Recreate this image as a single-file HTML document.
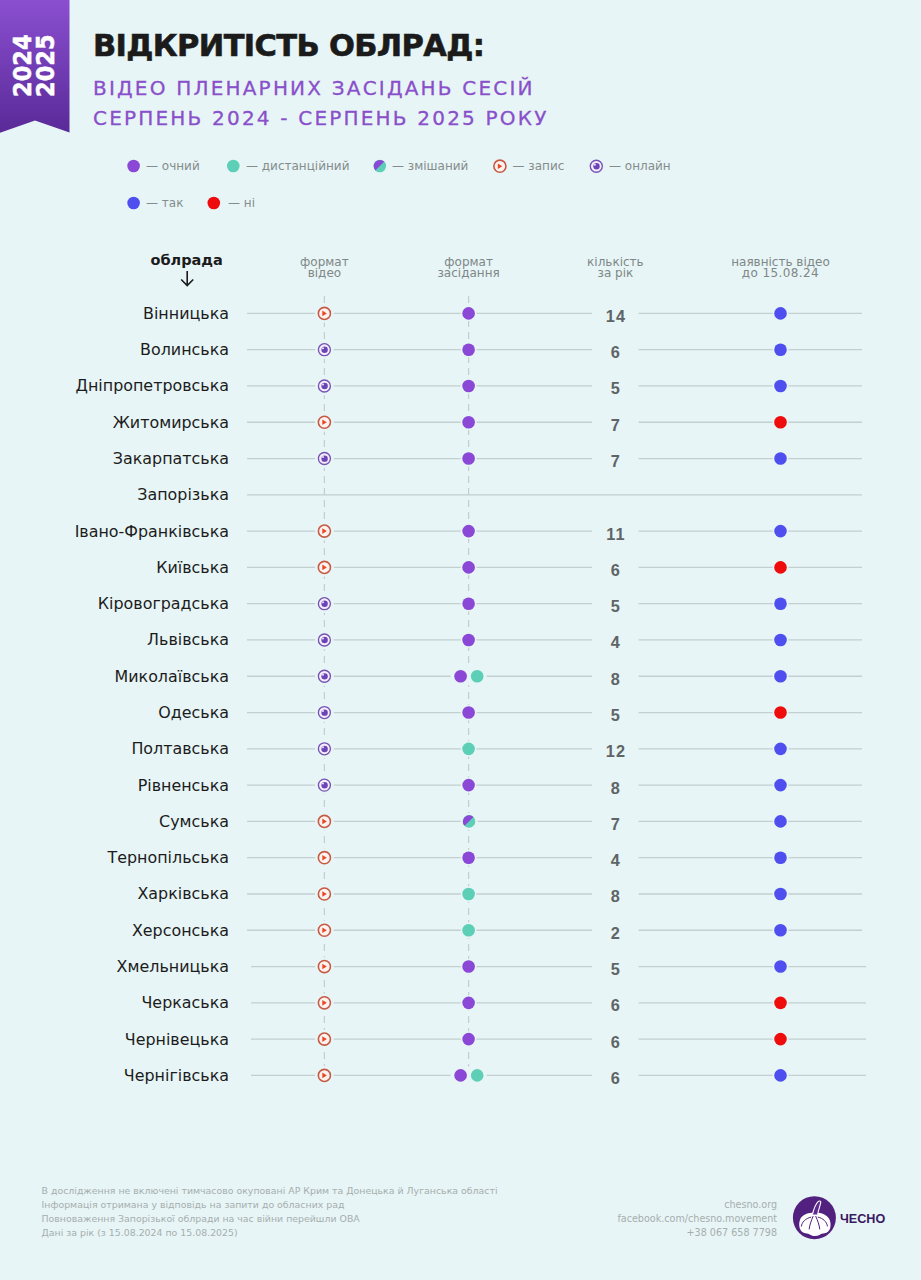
<!DOCTYPE html>
<html><head><meta charset="utf-8"><style>
*{margin:0;padding:0;box-sizing:border-box}
html,body{width:921px;height:1280px;overflow:hidden;background:#e7f5f6}
body{position:relative;font-family:"DejaVu Sans","Liberation Sans",sans-serif}
.abs{position:absolute;white-space:nowrap}
#rib{position:absolute;left:0;top:0}
.yr{position:absolute;color:#fff;font-weight:700;font-size:25px;line-height:25px;transform-origin:0 0;white-space:nowrap;-webkit-text-stroke:0.5px #fff}
h1{position:absolute;left:93px;top:28.5px;font-size:30.5px;line-height:34px;font-weight:700;color:#1b1b1b;letter-spacing:-0.65px;white-space:nowrap;-webkit-text-stroke:0.6px #1b1b1b}
.sub{position:absolute;left:93px;font-size:20px;line-height:24px;color:#8a4fca;letter-spacing:2.2px;-webkit-text-stroke:0.3px #8a4fca;white-space:nowrap}
.lg{position:absolute;font-size:12px;line-height:14px;color:#858c8c;white-space:nowrap}
.hd{position:absolute;font-size:12px;line-height:11.6px;color:#7f8787;text-align:center;width:120px;white-space:nowrap}
.nm{position:absolute;right:692px;font-size:15.9px;line-height:20px;color:#1c1c1c;white-space:nowrap;text-align:right}
.num{position:absolute;left:585.4px;width:60px;text-align:center;font-family:'Liberation Sans',sans-serif;font-size:16.3px;line-height:20px;font-weight:700;color:#5f6466;letter-spacing:1px;text-indent:1px}
.ft{position:absolute;font-size:9.4px;line-height:14px;color:#a6aeae;white-space:nowrap}
</style></head><body>
<svg id="rib" width="70" height="134" viewBox="0 0 70 134">
<defs><linearGradient id="rg" x1="0" y1="0" x2="0" y2="1"><stop offset="0" stop-color="#8a4fd0"/><stop offset="1" stop-color="#5a2a98"/></linearGradient></defs>
<polygon points="0,0 69.5,0 69.5,132.6 35,120.6 0,132.8" fill="url(#rg)"/>
</svg>
<div class="yr" style="left:10.2px;top:97px;transform:rotate(-90deg) scaleX(0.9)">2024</div>
<div class="yr" style="left:32.5px;top:97px;transform:rotate(-90deg) scaleX(0.9)">2025</div>
<h1>ВІДКРИТІСТЬ ОБЛРАД:</h1>
<div class="sub" style="top:76px">ВІДЕО ПЛЕНАРНИХ ЗАСІДАНЬ СЕСІЙ</div>
<div class="sub" style="top:106px">СЕРПЕНЬ 2024 - СЕРПЕНЬ 2025 РОКУ</div>
<svg class="abs" style="left:0;top:0" width="921" height="1280" viewBox="0 0 921 1280">
<circle cx="133.6" cy="166" r="6.3" fill="#8b47d6"/><circle cx="233.3" cy="166" r="6.3" fill="#5ccfb6"/><circle cx="379.8" cy="166" r="6.3" fill="#5ccfb6"/><path d="M384.25 161.55 A6.3 6.3 0 0 0 375.35 170.45 Z" fill="#8b47d6"/><circle cx="499.9" cy="166.2" r="9.4" fill="#e7f5f6"/><circle cx="499.9" cy="166.2" r="6.05" fill="#fdf4f0" stroke="#c75a45" stroke-width="1.6"/><path d="M497.80 163.40 L502.30 166.20 L497.80 169.00Z" fill="#ec4528"/><circle cx="596.3" cy="166.2" r="9.4" fill="#e7f5f6"/><circle cx="596.3" cy="166.2" r="6.0" fill="#f6eefe" stroke="#7453b2" stroke-width="1.35"/><circle cx="596.50" cy="166.30" r="3.2" fill="#6a45b5"/><circle cx="594.90" cy="164.70" r="1" fill="#efe6ff"/><circle cx="133.6" cy="203" r="6.3" fill="#4e4fee"/><circle cx="213.8" cy="203" r="6.3" fill="#ee0c0c"/>
<line x1="324.4" y1="296" x2="324.4" y2="1075.4" stroke="#c4cecf" stroke-width="1.2" stroke-dasharray="7 5"/><line x1="468.6" y1="296" x2="468.6" y2="1075.4" stroke="#c4cecf" stroke-width="1.2" stroke-dasharray="7 5"/><line x1="247" y1="313.4" x2="862" y2="313.4" stroke="#c3cfd1" stroke-width="1.3"/><rect x="592" y="305.4" width="46.6" height="16" fill="#e7f5f6"/><circle cx="324.4" cy="313.4" r="9.4" fill="#e7f5f6"/><circle cx="324.4" cy="313.4" r="6.05" fill="#fdf4f0" stroke="#c75a45" stroke-width="1.6"/><path d="M322.30 310.60 L326.80 313.40 L322.30 316.20Z" fill="#ec4528"/><circle cx="468.6" cy="313.4" r="7.9" fill="#e7f5f6"/><circle cx="468.6" cy="313.4" r="6.3" fill="#8b47d6"/><circle cx="780.5" cy="313.4" r="7.9" fill="#e7f5f6"/><circle cx="780.5" cy="313.4" r="6.3" fill="#4e4fee"/><line x1="247" y1="349.69" x2="862" y2="349.69" stroke="#c3cfd1" stroke-width="1.3"/><rect x="592" y="341.69" width="46.6" height="16" fill="#e7f5f6"/><circle cx="324.4" cy="349.69" r="9.4" fill="#e7f5f6"/><circle cx="324.4" cy="349.69" r="6.0" fill="#f6eefe" stroke="#7453b2" stroke-width="1.35"/><circle cx="324.60" cy="349.79" r="3.2" fill="#6a45b5"/><circle cx="323.00" cy="348.19" r="1" fill="#efe6ff"/><circle cx="468.6" cy="349.69" r="7.9" fill="#e7f5f6"/><circle cx="468.6" cy="349.69" r="6.3" fill="#8b47d6"/><circle cx="780.5" cy="349.69" r="7.9" fill="#e7f5f6"/><circle cx="780.5" cy="349.69" r="6.3" fill="#4e4fee"/><line x1="247" y1="385.97" x2="862" y2="385.97" stroke="#c3cfd1" stroke-width="1.3"/><rect x="592" y="377.97" width="46.6" height="16" fill="#e7f5f6"/><circle cx="324.4" cy="385.97" r="9.4" fill="#e7f5f6"/><circle cx="324.4" cy="385.97" r="6.0" fill="#f6eefe" stroke="#7453b2" stroke-width="1.35"/><circle cx="324.60" cy="386.07" r="3.2" fill="#6a45b5"/><circle cx="323.00" cy="384.47" r="1" fill="#efe6ff"/><circle cx="468.6" cy="385.97" r="7.9" fill="#e7f5f6"/><circle cx="468.6" cy="385.97" r="6.3" fill="#8b47d6"/><circle cx="780.5" cy="385.97" r="7.9" fill="#e7f5f6"/><circle cx="780.5" cy="385.97" r="6.3" fill="#4e4fee"/><line x1="247" y1="422.26" x2="862" y2="422.26" stroke="#c3cfd1" stroke-width="1.3"/><rect x="592" y="414.26" width="46.6" height="16" fill="#e7f5f6"/><circle cx="324.4" cy="422.26" r="9.4" fill="#e7f5f6"/><circle cx="324.4" cy="422.26" r="6.05" fill="#fdf4f0" stroke="#c75a45" stroke-width="1.6"/><path d="M322.30 419.46 L326.80 422.26 L322.30 425.06Z" fill="#ec4528"/><circle cx="468.6" cy="422.26" r="7.9" fill="#e7f5f6"/><circle cx="468.6" cy="422.26" r="6.3" fill="#8b47d6"/><circle cx="780.5" cy="422.26" r="7.9" fill="#e7f5f6"/><circle cx="780.5" cy="422.26" r="6.3" fill="#ee0c0c"/><line x1="247" y1="458.54" x2="862" y2="458.54" stroke="#c3cfd1" stroke-width="1.3"/><rect x="592" y="450.54" width="46.6" height="16" fill="#e7f5f6"/><circle cx="324.4" cy="458.54" r="9.4" fill="#e7f5f6"/><circle cx="324.4" cy="458.54" r="6.0" fill="#f6eefe" stroke="#7453b2" stroke-width="1.35"/><circle cx="324.60" cy="458.64" r="3.2" fill="#6a45b5"/><circle cx="323.00" cy="457.04" r="1" fill="#efe6ff"/><circle cx="468.6" cy="458.54" r="7.9" fill="#e7f5f6"/><circle cx="468.6" cy="458.54" r="6.3" fill="#8b47d6"/><circle cx="780.5" cy="458.54" r="7.9" fill="#e7f5f6"/><circle cx="780.5" cy="458.54" r="6.3" fill="#4e4fee"/><line x1="247" y1="494.83" x2="862" y2="494.83" stroke="#c3cfd1" stroke-width="1.3"/><line x1="247" y1="531.12" x2="862" y2="531.12" stroke="#c3cfd1" stroke-width="1.3"/><rect x="592" y="523.12" width="46.6" height="16" fill="#e7f5f6"/><circle cx="324.4" cy="531.12" r="9.4" fill="#e7f5f6"/><circle cx="324.4" cy="531.12" r="6.05" fill="#fdf4f0" stroke="#c75a45" stroke-width="1.6"/><path d="M322.30 528.32 L326.80 531.12 L322.30 533.92Z" fill="#ec4528"/><circle cx="468.6" cy="531.12" r="7.9" fill="#e7f5f6"/><circle cx="468.6" cy="531.12" r="6.3" fill="#8b47d6"/><circle cx="780.5" cy="531.12" r="7.9" fill="#e7f5f6"/><circle cx="780.5" cy="531.12" r="6.3" fill="#4e4fee"/><line x1="247" y1="567.4" x2="862" y2="567.4" stroke="#c3cfd1" stroke-width="1.3"/><rect x="592" y="559.4" width="46.6" height="16" fill="#e7f5f6"/><circle cx="324.4" cy="567.4" r="9.4" fill="#e7f5f6"/><circle cx="324.4" cy="567.4" r="6.05" fill="#fdf4f0" stroke="#c75a45" stroke-width="1.6"/><path d="M322.30 564.60 L326.80 567.40 L322.30 570.20Z" fill="#ec4528"/><circle cx="468.6" cy="567.4" r="7.9" fill="#e7f5f6"/><circle cx="468.6" cy="567.4" r="6.3" fill="#8b47d6"/><circle cx="780.5" cy="567.4" r="7.9" fill="#e7f5f6"/><circle cx="780.5" cy="567.4" r="6.3" fill="#ee0c0c"/><line x1="247" y1="603.69" x2="862" y2="603.69" stroke="#c3cfd1" stroke-width="1.3"/><rect x="592" y="595.69" width="46.6" height="16" fill="#e7f5f6"/><circle cx="324.4" cy="603.69" r="9.4" fill="#e7f5f6"/><circle cx="324.4" cy="603.69" r="6.0" fill="#f6eefe" stroke="#7453b2" stroke-width="1.35"/><circle cx="324.60" cy="603.79" r="3.2" fill="#6a45b5"/><circle cx="323.00" cy="602.19" r="1" fill="#efe6ff"/><circle cx="468.6" cy="603.69" r="7.9" fill="#e7f5f6"/><circle cx="468.6" cy="603.69" r="6.3" fill="#8b47d6"/><circle cx="780.5" cy="603.69" r="7.9" fill="#e7f5f6"/><circle cx="780.5" cy="603.69" r="6.3" fill="#4e4fee"/><line x1="247" y1="639.97" x2="862" y2="639.97" stroke="#c3cfd1" stroke-width="1.3"/><rect x="592" y="631.97" width="46.6" height="16" fill="#e7f5f6"/><circle cx="324.4" cy="639.97" r="9.4" fill="#e7f5f6"/><circle cx="324.4" cy="639.97" r="6.0" fill="#f6eefe" stroke="#7453b2" stroke-width="1.35"/><circle cx="324.60" cy="640.07" r="3.2" fill="#6a45b5"/><circle cx="323.00" cy="638.47" r="1" fill="#efe6ff"/><circle cx="468.6" cy="639.97" r="7.9" fill="#e7f5f6"/><circle cx="468.6" cy="639.97" r="6.3" fill="#8b47d6"/><circle cx="780.5" cy="639.97" r="7.9" fill="#e7f5f6"/><circle cx="780.5" cy="639.97" r="6.3" fill="#4e4fee"/><line x1="247" y1="676.26" x2="862" y2="676.26" stroke="#c3cfd1" stroke-width="1.3"/><rect x="592" y="668.26" width="46.6" height="16" fill="#e7f5f6"/><circle cx="324.4" cy="676.26" r="9.4" fill="#e7f5f6"/><circle cx="324.4" cy="676.26" r="6.0" fill="#f6eefe" stroke="#7453b2" stroke-width="1.35"/><circle cx="324.60" cy="676.36" r="3.2" fill="#6a45b5"/><circle cx="323.00" cy="674.76" r="1" fill="#efe6ff"/><rect x="450.6" y="667.26" width="36" height="18" fill="#e7f5f6"/><circle cx="460.6" cy="676.26" r="6.3" fill="#8b47d6"/><circle cx="477.20000000000005" cy="676.26" r="6.3" fill="#5ccfb6"/><circle cx="780.5" cy="676.26" r="7.9" fill="#e7f5f6"/><circle cx="780.5" cy="676.26" r="6.3" fill="#4e4fee"/><line x1="247" y1="712.55" x2="862" y2="712.55" stroke="#c3cfd1" stroke-width="1.3"/><rect x="592" y="704.55" width="46.6" height="16" fill="#e7f5f6"/><circle cx="324.4" cy="712.55" r="9.4" fill="#e7f5f6"/><circle cx="324.4" cy="712.55" r="6.0" fill="#f6eefe" stroke="#7453b2" stroke-width="1.35"/><circle cx="324.60" cy="712.65" r="3.2" fill="#6a45b5"/><circle cx="323.00" cy="711.05" r="1" fill="#efe6ff"/><circle cx="468.6" cy="712.55" r="7.9" fill="#e7f5f6"/><circle cx="468.6" cy="712.55" r="6.3" fill="#8b47d6"/><circle cx="780.5" cy="712.55" r="7.9" fill="#e7f5f6"/><circle cx="780.5" cy="712.55" r="6.3" fill="#ee0c0c"/><line x1="247" y1="748.83" x2="862" y2="748.83" stroke="#c3cfd1" stroke-width="1.3"/><rect x="592" y="740.83" width="46.6" height="16" fill="#e7f5f6"/><circle cx="324.4" cy="748.83" r="9.4" fill="#e7f5f6"/><circle cx="324.4" cy="748.83" r="6.0" fill="#f6eefe" stroke="#7453b2" stroke-width="1.35"/><circle cx="324.60" cy="748.93" r="3.2" fill="#6a45b5"/><circle cx="323.00" cy="747.33" r="1" fill="#efe6ff"/><circle cx="468.6" cy="748.83" r="7.9" fill="#e7f5f6"/><circle cx="468.6" cy="748.83" r="6.3" fill="#5ccfb6"/><circle cx="780.5" cy="748.83" r="7.9" fill="#e7f5f6"/><circle cx="780.5" cy="748.83" r="6.3" fill="#4e4fee"/><line x1="247" y1="785.12" x2="862" y2="785.12" stroke="#c3cfd1" stroke-width="1.3"/><rect x="592" y="777.12" width="46.6" height="16" fill="#e7f5f6"/><circle cx="324.4" cy="785.12" r="9.4" fill="#e7f5f6"/><circle cx="324.4" cy="785.12" r="6.0" fill="#f6eefe" stroke="#7453b2" stroke-width="1.35"/><circle cx="324.60" cy="785.22" r="3.2" fill="#6a45b5"/><circle cx="323.00" cy="783.62" r="1" fill="#efe6ff"/><circle cx="468.6" cy="785.12" r="7.9" fill="#e7f5f6"/><circle cx="468.6" cy="785.12" r="6.3" fill="#8b47d6"/><circle cx="780.5" cy="785.12" r="7.9" fill="#e7f5f6"/><circle cx="780.5" cy="785.12" r="6.3" fill="#4e4fee"/><line x1="247" y1="821.4" x2="862" y2="821.4" stroke="#c3cfd1" stroke-width="1.3"/><rect x="592" y="813.4" width="46.6" height="16" fill="#e7f5f6"/><circle cx="324.4" cy="821.4" r="9.4" fill="#e7f5f6"/><circle cx="324.4" cy="821.4" r="6.05" fill="#fdf4f0" stroke="#c75a45" stroke-width="1.6"/><path d="M322.30 818.60 L326.80 821.40 L322.30 824.20Z" fill="#ec4528"/><circle cx="469.0" cy="821.4" r="8.5" fill="#e7f5f6"/><circle cx="469.0" cy="821.4" r="6.3" fill="#5ccfb6"/><path d="M473.45 816.95 A6.3 6.3 0 0 0 464.55 825.85 Z" fill="#8b47d6"/><circle cx="780.5" cy="821.4" r="7.9" fill="#e7f5f6"/><circle cx="780.5" cy="821.4" r="6.3" fill="#4e4fee"/><line x1="247" y1="857.69" x2="862" y2="857.69" stroke="#c3cfd1" stroke-width="1.3"/><rect x="592" y="849.69" width="46.6" height="16" fill="#e7f5f6"/><circle cx="324.4" cy="857.69" r="9.4" fill="#e7f5f6"/><circle cx="324.4" cy="857.69" r="6.05" fill="#fdf4f0" stroke="#c75a45" stroke-width="1.6"/><path d="M322.30 854.89 L326.80 857.69 L322.30 860.49Z" fill="#ec4528"/><circle cx="468.6" cy="857.69" r="7.9" fill="#e7f5f6"/><circle cx="468.6" cy="857.69" r="6.3" fill="#8b47d6"/><circle cx="780.5" cy="857.69" r="7.9" fill="#e7f5f6"/><circle cx="780.5" cy="857.69" r="6.3" fill="#4e4fee"/><line x1="247" y1="893.98" x2="862" y2="893.98" stroke="#c3cfd1" stroke-width="1.3"/><rect x="592" y="885.98" width="46.6" height="16" fill="#e7f5f6"/><circle cx="324.4" cy="893.98" r="9.4" fill="#e7f5f6"/><circle cx="324.4" cy="893.98" r="6.05" fill="#fdf4f0" stroke="#c75a45" stroke-width="1.6"/><path d="M322.30 891.18 L326.80 893.98 L322.30 896.78Z" fill="#ec4528"/><circle cx="468.6" cy="893.98" r="7.9" fill="#e7f5f6"/><circle cx="468.6" cy="893.98" r="6.3" fill="#5ccfb6"/><circle cx="780.5" cy="893.98" r="7.9" fill="#e7f5f6"/><circle cx="780.5" cy="893.98" r="6.3" fill="#4e4fee"/><line x1="247" y1="930.26" x2="862" y2="930.26" stroke="#c3cfd1" stroke-width="1.3"/><rect x="592" y="922.26" width="46.6" height="16" fill="#e7f5f6"/><circle cx="324.4" cy="930.26" r="9.4" fill="#e7f5f6"/><circle cx="324.4" cy="930.26" r="6.05" fill="#fdf4f0" stroke="#c75a45" stroke-width="1.6"/><path d="M322.30 927.46 L326.80 930.26 L322.30 933.06Z" fill="#ec4528"/><circle cx="468.6" cy="930.26" r="7.9" fill="#e7f5f6"/><circle cx="468.6" cy="930.26" r="6.3" fill="#5ccfb6"/><circle cx="780.5" cy="930.26" r="7.9" fill="#e7f5f6"/><circle cx="780.5" cy="930.26" r="6.3" fill="#4e4fee"/><line x1="251" y1="966.55" x2="866" y2="966.55" stroke="#c3cfd1" stroke-width="1.3"/><rect x="592" y="958.55" width="46.6" height="16" fill="#e7f5f6"/><circle cx="324.4" cy="966.55" r="9.4" fill="#e7f5f6"/><circle cx="324.4" cy="966.55" r="6.05" fill="#fdf4f0" stroke="#c75a45" stroke-width="1.6"/><path d="M322.30 963.75 L326.80 966.55 L322.30 969.35Z" fill="#ec4528"/><circle cx="468.6" cy="966.55" r="7.9" fill="#e7f5f6"/><circle cx="468.6" cy="966.55" r="6.3" fill="#8b47d6"/><circle cx="780.5" cy="966.55" r="7.9" fill="#e7f5f6"/><circle cx="780.5" cy="966.55" r="6.3" fill="#4e4fee"/><line x1="251" y1="1002.83" x2="866" y2="1002.83" stroke="#c3cfd1" stroke-width="1.3"/><rect x="592" y="994.83" width="46.6" height="16" fill="#e7f5f6"/><circle cx="324.4" cy="1002.83" r="9.4" fill="#e7f5f6"/><circle cx="324.4" cy="1002.83" r="6.05" fill="#fdf4f0" stroke="#c75a45" stroke-width="1.6"/><path d="M322.30 1000.03 L326.80 1002.83 L322.30 1005.63Z" fill="#ec4528"/><circle cx="468.6" cy="1002.83" r="7.9" fill="#e7f5f6"/><circle cx="468.6" cy="1002.83" r="6.3" fill="#8b47d6"/><circle cx="780.5" cy="1002.83" r="7.9" fill="#e7f5f6"/><circle cx="780.5" cy="1002.83" r="6.3" fill="#ee0c0c"/><line x1="251" y1="1039.12" x2="866" y2="1039.12" stroke="#c3cfd1" stroke-width="1.3"/><rect x="592" y="1031.12" width="46.6" height="16" fill="#e7f5f6"/><circle cx="324.4" cy="1039.12" r="9.4" fill="#e7f5f6"/><circle cx="324.4" cy="1039.12" r="6.05" fill="#fdf4f0" stroke="#c75a45" stroke-width="1.6"/><path d="M322.30 1036.32 L326.80 1039.12 L322.30 1041.92Z" fill="#ec4528"/><circle cx="468.6" cy="1039.12" r="7.9" fill="#e7f5f6"/><circle cx="468.6" cy="1039.12" r="6.3" fill="#8b47d6"/><circle cx="780.5" cy="1039.12" r="7.9" fill="#e7f5f6"/><circle cx="780.5" cy="1039.12" r="6.3" fill="#ee0c0c"/><line x1="251" y1="1075.41" x2="866" y2="1075.41" stroke="#c3cfd1" stroke-width="1.3"/><rect x="592" y="1067.41" width="46.6" height="16" fill="#e7f5f6"/><circle cx="324.4" cy="1075.41" r="9.4" fill="#e7f5f6"/><circle cx="324.4" cy="1075.41" r="6.05" fill="#fdf4f0" stroke="#c75a45" stroke-width="1.6"/><path d="M322.30 1072.61 L326.80 1075.41 L322.30 1078.21Z" fill="#ec4528"/><rect x="450.6" y="1066.41" width="36" height="18" fill="#e7f5f6"/><circle cx="460.6" cy="1075.41" r="6.3" fill="#8b47d6"/><circle cx="477.20000000000005" cy="1075.41" r="6.3" fill="#5ccfb6"/><circle cx="780.5" cy="1075.41" r="7.9" fill="#e7f5f6"/><circle cx="780.5" cy="1075.41" r="6.3" fill="#4e4fee"/>
<path d="M187.2 271 V285.5 M181.2 279.5 L187.2 285.5 L193.2 279.5" fill="none" stroke="#1b1b1b" stroke-width="1.6"/>
</svg>
<div class="lg" style="left:146px;top:159px">— очний</div>
<div class="lg" style="left:246px;top:159px">— дистанційний</div>
<div class="lg" style="left:392px;top:159px">— змішаний</div>
<div class="lg" style="left:512.5px;top:159px">— запис</div>
<div class="lg" style="left:609px;top:159px">— онлайн</div>
<div class="lg" style="left:146px;top:196px">— так</div>
<div class="lg" style="left:228px;top:196px">— ні</div>
<div class="abs" style="left:150.5px;top:251.5px;font-size:14.5px;line-height:16px;font-weight:700;color:#1b1b1b">облрада</div>
<div class="hd" style="left:264.4px;top:256.6px">формат<br>відео</div>
<div class="hd" style="left:408.6px;top:256.6px">формат<br>засідання</div>
<div class="hd" style="left:555.4px;top:256.6px">кількість<br>за рік</div>
<div class="hd" style="left:720.5px;top:256.6px">наявність відео<br><span style="letter-spacing:0.4px">до 15.08.24</span></div>
<div class="nm" style="top:303.80px">Вінницька</div><div class="num" style="top:305.90px">14</div><div class="nm" style="top:340.09px">Волинська</div><div class="num" style="top:342.19px">6</div><div class="nm" style="top:376.37px">Дніпропетровська</div><div class="num" style="top:378.47px">5</div><div class="nm" style="top:412.66px">Житомирська</div><div class="num" style="top:414.76px">7</div><div class="nm" style="top:448.94px">Закарпатська</div><div class="num" style="top:451.04px">7</div><div class="nm" style="top:485.23px">Запорізька</div><div class="nm" style="top:521.52px">Івано-Франківська</div><div class="num" style="top:523.62px">11</div><div class="nm" style="top:557.80px">Київська</div><div class="num" style="top:559.90px">6</div><div class="nm" style="top:594.09px">Кіровоградська</div><div class="num" style="top:596.19px">5</div><div class="nm" style="top:630.37px">Львівська</div><div class="num" style="top:632.47px">4</div><div class="nm" style="top:666.66px">Миколаївська</div><div class="num" style="top:668.76px">8</div><div class="nm" style="top:702.95px">Одеська</div><div class="num" style="top:705.05px">5</div><div class="nm" style="top:739.23px">Полтавська</div><div class="num" style="top:741.33px">12</div><div class="nm" style="top:775.52px">Рівненська</div><div class="num" style="top:777.62px">8</div><div class="nm" style="top:811.80px">Сумська</div><div class="num" style="top:813.90px">7</div><div class="nm" style="top:848.09px">Тернопільська</div><div class="num" style="top:850.19px">4</div><div class="nm" style="top:884.38px">Харківська</div><div class="num" style="top:886.48px">8</div><div class="nm" style="top:920.66px">Херсонська</div><div class="num" style="top:922.76px">2</div><div class="nm" style="top:956.95px">Хмельницька</div><div class="num" style="top:959.05px">5</div><div class="nm" style="top:993.23px">Черкаська</div><div class="num" style="top:995.33px">6</div><div class="nm" style="top:1029.52px">Чернівецька</div><div class="num" style="top:1031.62px">6</div><div class="nm" style="top:1065.81px">Чернігівська</div><div class="num" style="top:1067.91px">6</div>
<div class="ft" style="left:41.5px;top:1183.8px">В дослідження не включені тимчасово окуповані АР Крим та Донецька й Луганська області<br>Інформація отримана у відповідь на запити до обласних рад<br>Повноваження Запорізької облради на час війни перейшли ОВА<br>Дані за рік (з 15.08.2024 по 15.08.2025)</div>
<div class="ft" style="right:144px;top:1198px;text-align:right;font-size:9.6px">chesno.org<br>facebook.com/chesno.movement<br>+38 067 658 7798</div>
<svg class="abs" style="left:790px;top:1194px" width="50" height="50" viewBox="0 0 50 50">
<circle cx="24.4" cy="23.7" r="21.5" fill="#52207f"/>
<path d="M21.7 18.8 C17 19.2 12.5 21 10.5 24.5 C9 27.5 8.8 31.5 9.8 34.5 C10.8 37.2 12.8 38.8 15.5 39.3 C17.2 39.6 19 40 20.2 40.8 C21.8 41.9 23.4 42.2 25 42.1 C26.8 42 28.2 41.6 29.5 40.9 C30.8 40 32.5 39.6 34.5 39.3 C37.5 38.8 39.4 36.8 40.2 34 C41 31 40.6 27.2 39 24.5 C36.8 21 32.5 19.2 28.2 18.8 Z" fill="#fff"/>
<path d="M22.4 20.5 C23.8 15 25.6 10 28.3 7.4 C29.2 6.6 30.9 6.9 30.8 8.2 C30.3 11.5 28.6 15.5 27.6 20.5" fill="#5d2a90" stroke="#fff" stroke-width="1.1" stroke-linejoin="round"/>
<path d="M20.8 23.2 C15.5 24.5 11.8 28 11.4 32.2 M23 22.4 C21.2 27 19.6 31 19.2 35 M25.8 22.4 C27.6 26.5 29.4 31 29.7 35 M28.2 23.2 C33.2 24.3 36.8 27.8 37.4 32" fill="none" stroke="#52207f" stroke-width="1" stroke-linecap="round"/>
</svg>
<div class="abs" style="left:840px;top:1211px;font-family:'Liberation Sans',sans-serif;font-size:12.6px;line-height:16px;font-weight:700;color:#3a1862">ЧЕСНО</div>
</body></html>
